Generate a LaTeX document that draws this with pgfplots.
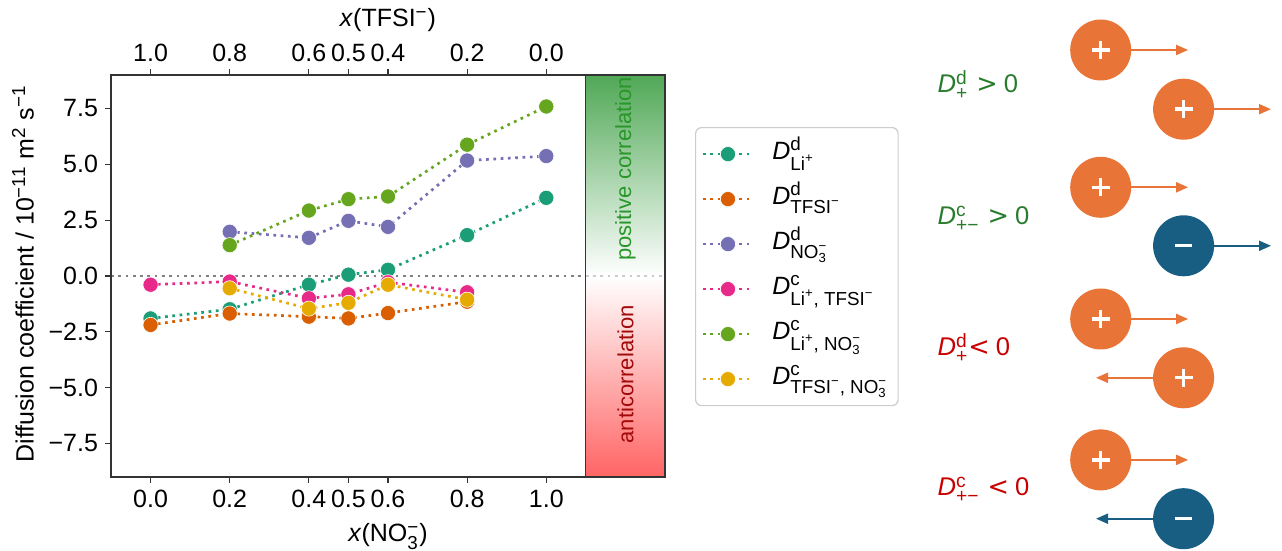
\documentclass[border=0pt]{standalone}
\usepackage{fontspec}
\setmainfont{Liberation Sans}
\newfontfamily\dejavu{DejaVu Sans}
\usepackage{amsmath}
\DeclareMathSizes{12.5}{12.5}{9.4}{7}
\DeclareMathSizes{12.8}{12.8}{9.6}{7.2}
\DeclareMathSizes{11}{11}{8.2}{6}
\usepackage{pgfplots}
\pgfplotsset{compat=1.18}
\usetikzlibrary{arrows.meta}

\definecolor{cTeal}{HTML}{1B9E77}
\definecolor{cOrange}{HTML}{D95F02}
\definecolor{cPurple}{HTML}{7570B3}
\definecolor{cPink}{HTML}{E7298A}
\definecolor{cGreen}{HTML}{66A61E}
\definecolor{cYellow}{HTML}{E6AB02}
\definecolor{cbGreen}{RGB}{80,168,86}
\definecolor{cbRed}{RGB}{255,100,100}
\definecolor{posText}{RGB}{40,150,40}
\definecolor{negText}{RGB}{160,10,10}
\definecolor{rGreen}{RGB}{40,125,45}
\definecolor{rRed}{RGB}{200,0,0}
\definecolor{ionOrange}{RGB}{233,116,55}
\definecolor{ionBlue}{RGB}{23,94,130}

\newcommand{\Lip}{Li\textsuperscript{+}}
\newcommand{\TFSI}{TFSI\textsuperscript{−}}
\newcommand{\NOt}{NO$_{\text{3}}^{\text{−}}$}
\newcommand{\Dsym}[2]{\textit{D}$^{\text{#1}}_{\text{#2}}$}

\newcommand{\ionp}[3]{%
 \begin{scope}[shift={(#1,#2)}]
 \draw[ionOrange, line width=1pt, -{Triangle[length=6pt,width=5pt]}] (0,0) -- (#3,0);
 \fill[ionOrange] (0,0) circle (15.25pt);
 \draw[white, line width=1.7pt] (-4.5pt,0) -- (4.5pt,0) (0,-4.5pt) -- (0,4.5pt);
 \end{scope}}
\newcommand{\ionm}[3]{%
 \begin{scope}[shift={(#1,#2)}]
 \draw[ionBlue, line width=1pt, -{Triangle[length=6pt,width=5pt]}] (0,0) -- (#3,0);
 \fill[ionBlue] (0,0) circle (15.25pt);
 \draw[white, line width=1.7pt] (-4.4pt,0) -- (4.4pt,0);
 \end{scope}}

\pgfplotsset{
 ser/.style={color=#1, line width=1.35pt, dash pattern=on 1.35pt off 2.3pt,
   mark=*, mark size=3.8pt, mark options={solid, fill=#1, draw=white, line width=0.3pt}},
}

\begin{document}
\begin{tikzpicture}[font=\fontsize{12.5}{15}\selectfont]
\path[use as bounding box] (0,0) rectangle (641pt,275.5pt);

\begin{axis}[
  at={(55.5pt,37pt)}, anchor=south west,
  scale only axis, width=277pt, height=201pt,
  xmin=-0.1, xmax=1.3, ymin=-9, ymax=9,
  axis on top,
  xtick={0,0.2,0.4,0.5,0.6,0.8,1},
  xticklabels={0.0,0.2,0.4,0.5,0.6,0.8,1.0},
  ytick={-7.5,-5,-2.5,0,2.5,5,7.5},
  yticklabels={−7.5,−5.0,−2.5,0.0,2.5,5.0,7.5},
  xtick pos=left, ytick pos=left,
  tick align=outside,
  major tick length=3pt,
  tick style={black!80, line width=0.6pt},
  axis line style={black!80, line width=0.6pt},
  xlabel={\textit{x}(\NOt)},
  ylabel={Diffusion coefficient / 10$^{\text{−11}}$ m$^{\text{2}}$ s$^{\text{−1}}$},
  xlabel style={at={(axis description cs:0.5,-0.161)}, anchor=base},
  ylabel style={at={(axis description cs:-0.159,0.505)}, anchor=center},
  legend cell align=left,
  legend style={at={(1.0542,0.8706)}, anchor=north west, draw=black!20,
    rounded corners=3pt, fill=white, line width=0.6pt,
    inner xsep=3pt, inner ysep=2pt, row sep=0pt,
    nodes={text height=12pt, text depth=6.5pt, inner sep=2pt},
    /tikz/every odd column/.append style={column sep=7pt}},
  legend image code/.code={
    \draw[mark repeat=2, mark phase=2, #1] plot coordinates {(0pt,0pt) (12.5pt,0pt) (25pt,0pt)};
  },
]
\fill[top color=cbGreen, bottom color=cbRed, middle color=white] (axis cs:1.1,-9) rectangle (axis cs:1.3,9);
\addplot[forget plot, color=black!50, line width=1.35pt, dash pattern=on 1.35pt off 2.3pt] coordinates {(-0.1,0) (1.1,0)};
\addplot[forget plot, color=black!20, line width=1.35pt, dash pattern=on 1.35pt off 2.3pt] coordinates {(1.1,0) (1.3,0)};
\draw[black!80, line width=0.6pt] (axis cs:1.1,-9) -- (axis cs:1.1,9);
\node[rotate=90, text=posText, font=\fontsize{11}{13}\selectfont] at (axis cs:1.2,4.8) {positive correlation};
\node[rotate=90, text=negText, font=\fontsize{11}{13}\selectfont] at (axis cs:1.2,-4.4) {anticorrelation};

\addplot[ser=cTeal] coordinates {(0,-1.90) (0.2,-1.49) (0.4,-0.39) (0.5,0.06) (0.6,0.28) (0.8,1.83) (1.0,3.50)};
\addlegendentry{\Dsym{d}{\Lip}}
\addplot[ser=cOrange] coordinates {(0,-2.19) (0.2,-1.68) (0.4,-1.82) (0.5,-1.90) (0.6,-1.66) (0.8,-1.15)};
\addlegendentry{\Dsym{d}{\TFSI}}
\addplot[ser=cPurple] coordinates {(0.2,1.98) (0.4,1.71) (0.5,2.47) (0.6,2.20) (0.8,5.17) (1.0,5.37)};
\addlegendentry{\Dsym{d}{\NOt}}
\addplot[ser=cPink] coordinates {(0,-0.39) (0.2,-0.25) (0.4,-1.00) (0.5,-0.82) (0.6,-0.28) (0.8,-0.73)};
\addlegendentry{\Dsym{c}{\Lip, \TFSI}}
\addplot[ser=cGreen] coordinates {(0.2,1.38) (0.4,2.93) (0.5,3.44) (0.6,3.56) (0.8,5.88) (1.0,7.59)};
\addlegendentry{\Dsym{c}{\Lip, \NOt}}
\addplot[ser=cYellow] coordinates {(0.2,-0.55) (0.4,-1.46) (0.5,-1.20) (0.6,-0.39) (0.8,-1.06)};
\addlegendentry{\Dsym{c}{\TFSI, \NOt}}
\end{axis}

\begin{axis}[
  at={(55.5pt,37pt)}, anchor=south west,
  scale only axis, width=277pt, height=201pt,
  xmin=-0.1, xmax=1.3, ymin=-9, ymax=9,
  axis x line*=top, axis y line=none,
  xtick={0,0.2,0.4,0.5,0.6,0.8,1},
  xticklabels={1.0,0.8,0.6,0.5,0.4,0.2,0.0},
  tick align=outside,
  major tick length=3pt,
  tick style={black!80, line width=0.6pt},
  axis line style={black!80, line width=0.6pt},
  xlabel={\textit{x}(\TFSI)},
  xlabel style={at={(axis description cs:0.5,1.12)}, anchor=base},
]
\end{axis}

% right-hand sketch
\node[anchor=base west, text=rGreen, font=\fontsize{12.8}{15}\selectfont] at (465.3pt,229pt) {\Dsym{d}{+}\hspace{4pt}{\dejavu >}\hspace{3pt}0};
\node[anchor=base west, text=rGreen, font=\fontsize{12.8}{15}\selectfont] at (465.3pt,163pt) {\Dsym{c}{+−}\hspace{4pt}{\dejavu >}\hspace{3pt}0};
\node[anchor=base west, text=rRed, font=\fontsize{12.8}{15}\selectfont] at (465.3pt,97.5pt) {\Dsym{d}{+}\hspace{0pt}{\dejavu <}\hspace{3pt}0};
\node[anchor=base west, text=rRed, font=\fontsize{12.8}{15}\selectfont] at (465.3pt,27.5pt) {\Dsym{c}{+−}\hspace{4pt}{\dejavu <}\hspace{3pt}0};

\ionp{550.35pt}{250.5pt}{43.7pt}
\ionp{591.8pt}{220.9pt}{43.7pt}
\ionp{550.35pt}{181.85pt}{43.7pt}
\ionm{591.8pt}{152.6pt}{43.7pt}
\ionp{550.35pt}{116pt}{43.7pt}
\ionp{591.8pt}{86.6pt}{-43.8pt}
\ionp{550.35pt}{45.55pt}{43.7pt}
\ionm{591.8pt}{16.15pt}{-43.8pt}
\end{tikzpicture}
\end{document}
